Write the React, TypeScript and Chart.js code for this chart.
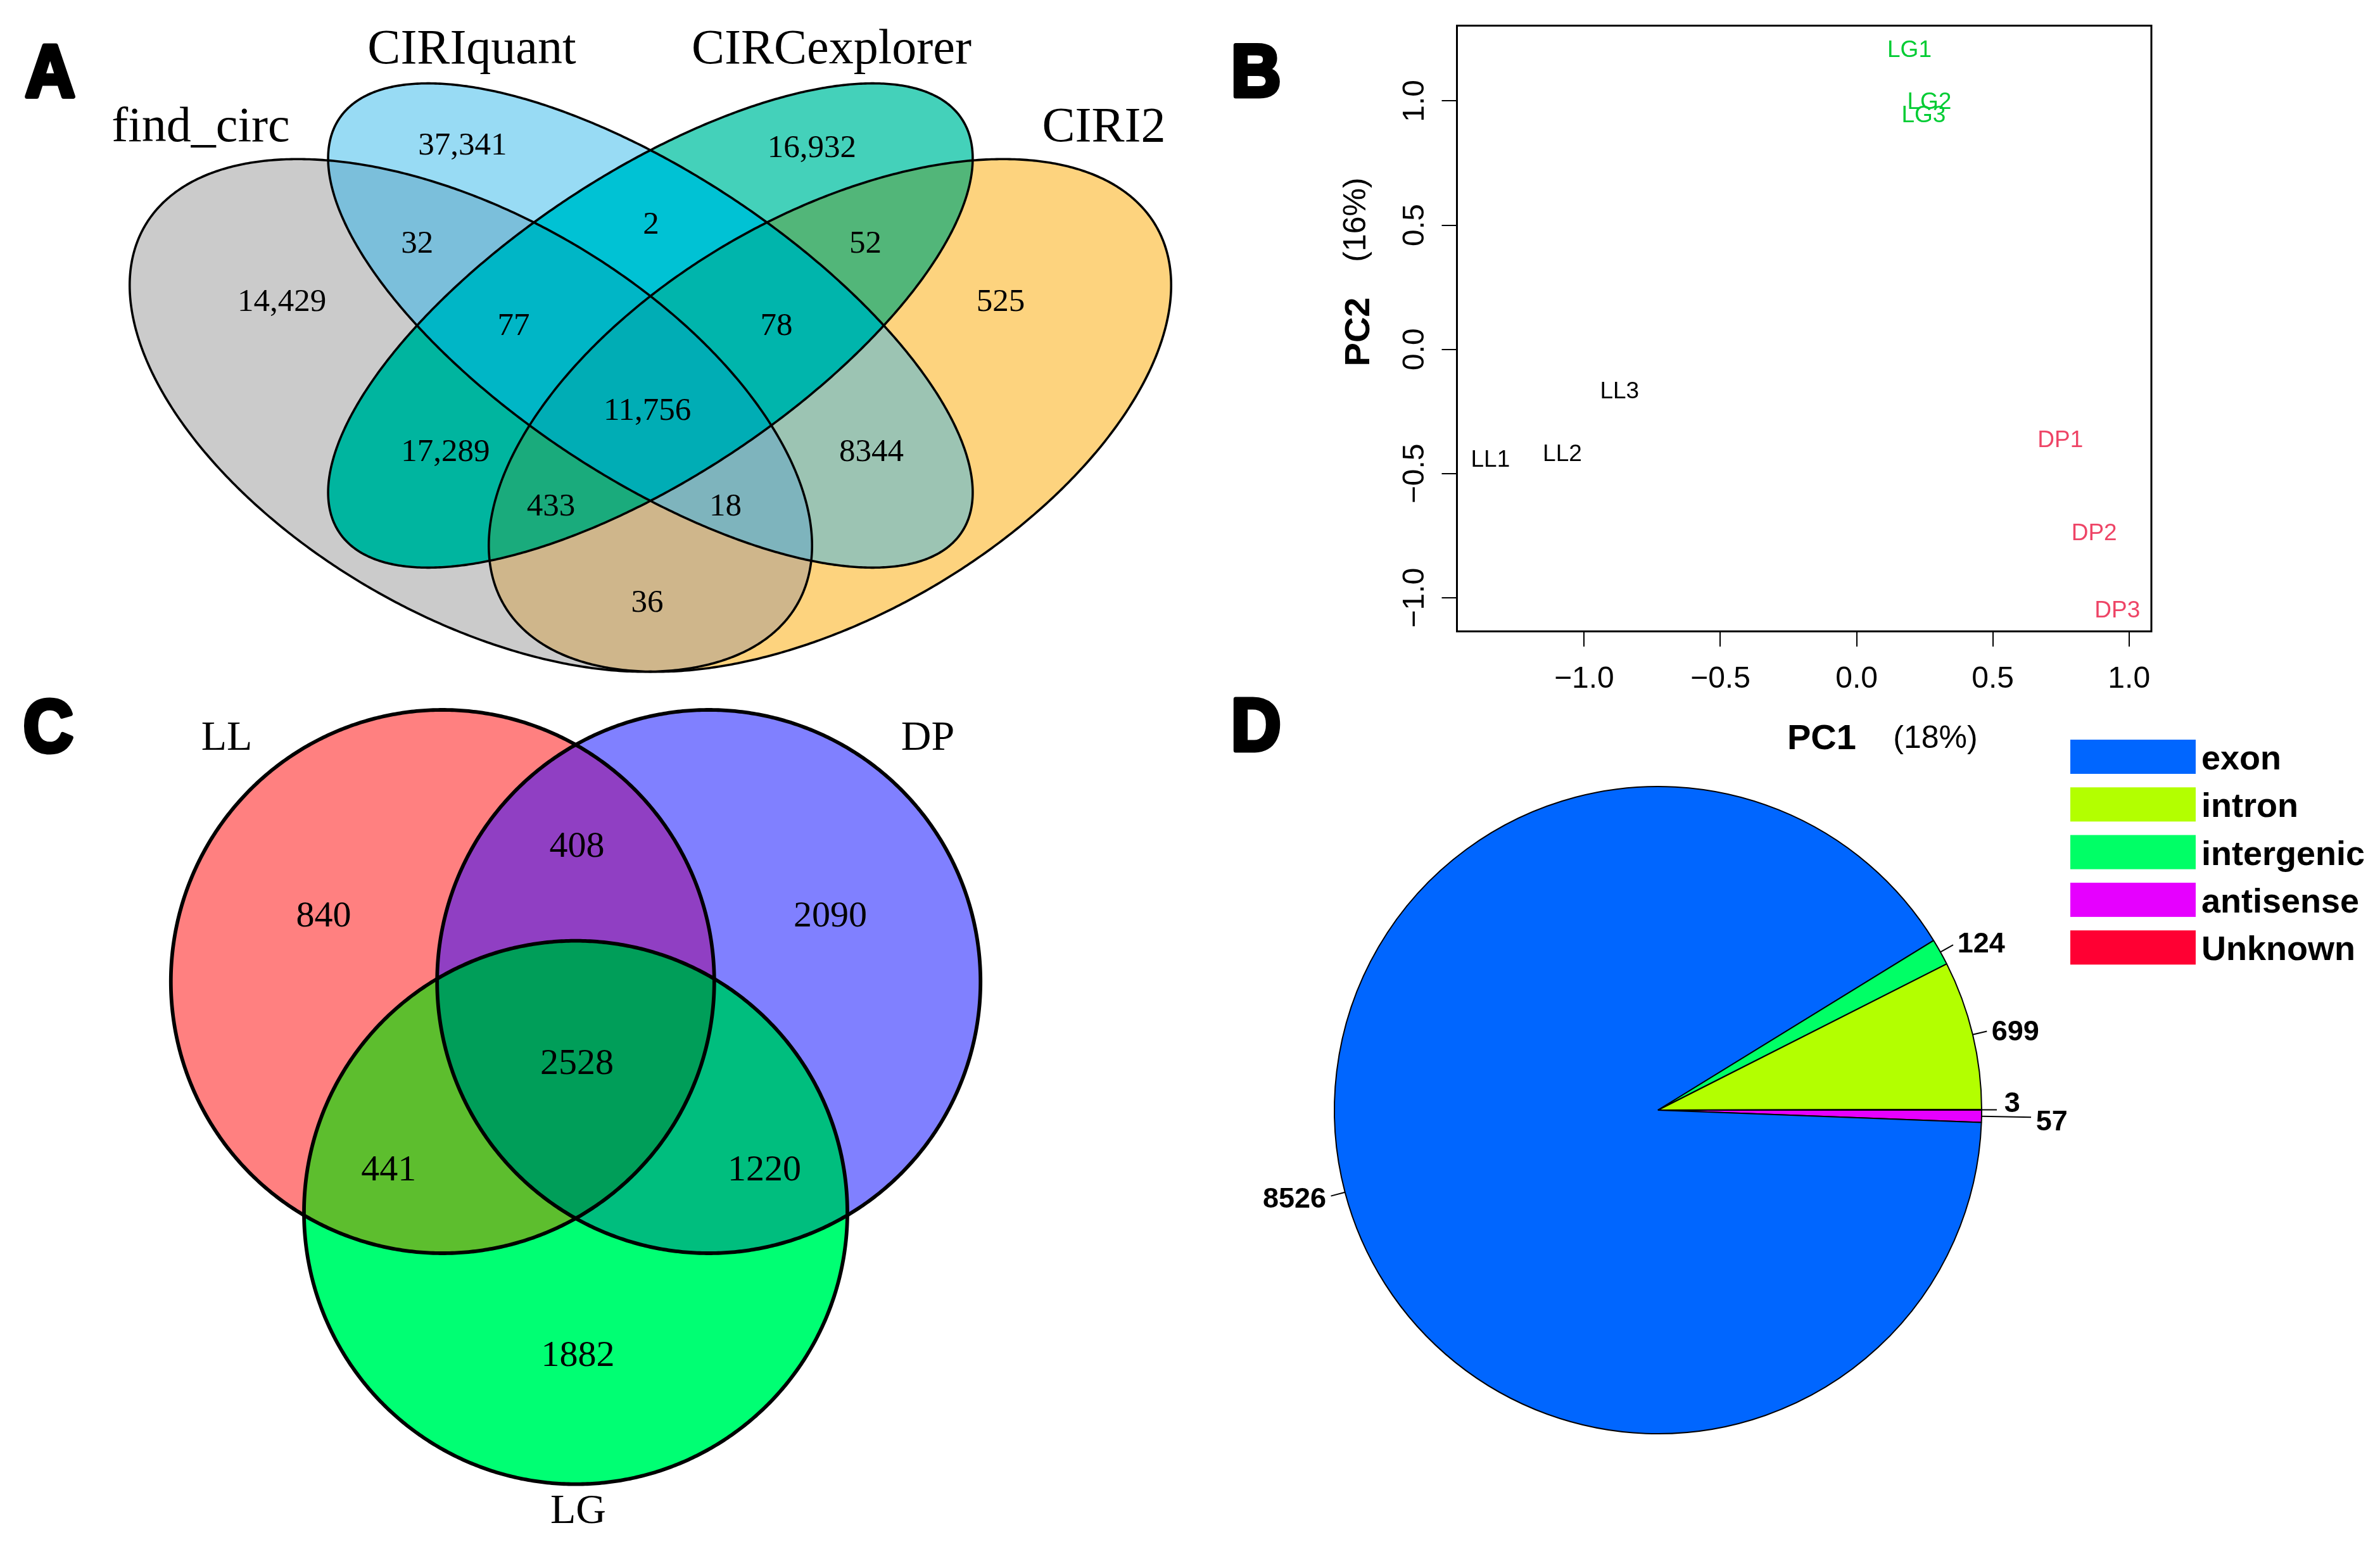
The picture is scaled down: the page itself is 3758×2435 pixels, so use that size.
import React, { useEffect, useRef } from 'react';
import { Chart, registerables } from 'chart.js';

Chart.register(...registerables);

/* ======================= DATA ======================= */
// Panel A – four-set Venn
const vennASetNames = ['find_circ', 'CIRIquant', 'CIRCexplorer', 'CIRI2'];
const vennARegions = ['A', 'B', 'C', 'D', 'AB', 'AC', 'AD', 'BC', 'BD', 'CD', 'ABC', 'ABD', 'ACD', 'BCD', 'ABCD'];
const vennACounts = [14429, 37341, 16932, 525, 32, 17289, 36, 2, 8344, 52, 77, 18, 433, 78, 11756];

// Panel B – PCA
const pcaSamples = ['LL1', 'LL2', 'LL3', 'DP1', 'DP2', 'DP3', 'LG1', 'LG2', 'LG3'];
const pcaPC1 = [-1.344, -1.08, -0.87, 0.748, 0.872, 0.957, 0.194, 0.267, 0.246];
const pcaPC2 = [-0.439, -0.417, -0.165, -0.361, -0.735, -1.047, 1.209, 1.0, 0.948];
const pcaGroups = ['LL', 'LL', 'LL', 'DP', 'DP', 'DP', 'LG', 'LG', 'LG'];
const pcaTickValues = [-1, -0.5, 0, 0.5, 1];
const pcaTickLabels = ['\u22121.0', '\u22120.5', '0.0', '0.5', '1.0'];
const pcaXTitle = ['PC1', '(18%)'];
const pcaYTitle = ['PC2', '(16%)'];

// Panel C – three-set Venn
const vennCSetNames = ['LL', 'DP', 'LG'];
const vennCRegions = ['A', 'B', 'C', 'AB', 'AC', 'BC', 'ABC'];
const vennCCounts = [840, 2090, 1882, 408, 441, 1220, 2528];

// Panel D – pie
const pieCategories = ['exon', 'intron', 'intergenic', 'antisense', 'Unknown'];
const pieCounts = [8526, 699, 124, 57, 3];
const pieOrder = [3, 0, 2, 1, 4]; // clockwise drawing order starting at 3 o'clock

/* ======================= STYLE / LAYOUT ======================= */
const SERIF = '"Liberation Serif", "Times New Roman", serif';
const SANS = '"Liberation Sans", Arial, sans-serif';

const A_COLORS: Record<string, string> = {
  A: '#CBCBCB', B: '#98DBF4', C: '#44D1BA', D: '#FDD37E',
  AB: '#7BBFDB', AC: '#00B59F', AD: '#CFB68B', BC: '#00C2D4', BD: '#9CC4B3', CD: '#52B679',
  ABC: '#00B6C6', ABD: '#7EB4BD', ACD: '#1AAB7C', BCD: '#00B5AC', ABCD: '#00ADB5',
};
const A_SHAPES = [
  { cx: 0.35, cy: 0.47, a: 0.35, b: 0.2, rot: 135 },
  { cx: 0.5, cy: 0.57, a: 0.35, b: 0.15, rot: 135 },
  { cx: 0.5, cy: 0.57, a: 0.35, b: 0.15, rot: 45 },
  { cx: 0.65, cy: 0.47, a: 0.35, b: 0.2, rot: 45 },
];
const A_LABEL_POS: Record<string, [number, number]> = {
  A: [0.1921, 0.5982], B: [0.3431, 0.7721], C: [0.6349, 0.7696], D: [0.7926, 0.5982],
  AB: [0.3051, 0.663], AC: [0.3288, 0.4313], AD: [0.4974, 0.2637], BC: [0.5005, 0.6841],
  BD: [0.6847, 0.4313], CD: [0.6796, 0.663], ABC: [0.3857, 0.5714], ABD: [0.5627, 0.3707],
  ACD: [0.4169, 0.3707], BCD: [0.6053, 0.5714], ABCD: [0.4974, 0.477],
};
const A_SET_POS: [number, number][] = [[0.1243, 0.7749], [0.3508, 0.8615], [0.6513, 0.8615], [0.8788, 0.7749]];

const C_COLORS: Record<string, string> = {
  A: '#FF8080', B: '#8080FF', C: '#00FF73', AB: '#903FC3', AC: '#5DBE2E', BC: '#00BE7E', ABC: '#009E59',
};
const C_SHAPES = [
  { cx: -0.49, cy: 0, a: 1, b: 1, rot: 0 },
  { cx: 0.49, cy: 0, a: 1, b: 1, rot: 0 },
  { cx: 0, cy: -0.85, a: 1, b: 1, rot: 0 },
];
const C_LABEL_POS: Record<string, [number, number]> = {
  A: [-0.9277, 0.2483], B: [0.9371, 0.2483], C: [0.0082, -1.3683], AB: [0.0047, 0.5035],
  AC: [-0.6883, -0.6876], BC: [0.6946, -0.6876], ABC: [0.0047, -0.2951],
};
const C_SET_POS: [number, number][] = [[-1.2844, 0.8531], [1.296, 0.8531], [0.0093, -1.993]];

const GROUP_COLORS: Record<string, string> = { LL: '#000000', DP: '#EE4466', LG: '#00CC33' };
const PIE_COLORS = ['#0066FF', '#B3FF00', '#00FF66', '#E600FF', '#FF0033'];
const PIE_LABEL_STYLE: Record<string, { lineEnd?: number; textAt?: number; dy?: number }> = {
  Unknown: { lineEnd: 1.047, textAt: 1.07, dy: -12 },
  antisense: { lineEnd: 1.153, textAt: 1.168, dy: 5 },
};

/* ======================= HELPERS ======================= */
function fmtCount(n: number) {
  return n >= 10000 ? n.toLocaleString('en-US') : String(n);
}

function ellipsePath(chart: any, e: any) {
  const xs = chart.scales.x;
  const ys = chart.scales.y;
  const p = new Path2D();
  const r = (e.rot * Math.PI) / 180;
  const n = 720;
  for (let i = 0; i <= n; i++) {
    const t = (i / n) * Math.PI * 2;
    const ux = e.cx + e.a * Math.cos(t) * Math.cos(r) - e.b * Math.sin(t) * Math.sin(r);
    const uy = e.cy + e.a * Math.cos(t) * Math.sin(r) + e.b * Math.sin(t) * Math.cos(r);
    const px = xs.getPixelForValue(ux);
    const py = ys.getPixelForValue(uy);
    if (i === 0) p.moveTo(px, py);
    else p.lineTo(px, py);
  }
  p.closePath();
  return p;
}

function drawVenn(chart: any, shapes: any[], regions: string[], colors: Record<string, string>, lw: number) {
  const ctx = chart.ctx;
  const paths = shapes.map((s) => ellipsePath(chart, s));
  const order = regions.map((_, i) => i).sort((a, b) => regions[a].length - regions[b].length);
  for (const i of order) {
    const key = regions[i];
    ctx.save();
    for (const ch of key) ctx.clip(paths[ch.charCodeAt(0) - 65]);
    ctx.fillStyle = colors[key];
    ctx.fillRect(0, 0, chart.width, chart.height);
    ctx.restore();
  }
  ctx.save();
  ctx.lineWidth = lw;
  ctx.strokeStyle = '#000';
  ctx.lineJoin = 'round';
  paths.forEach((p) => ctx.stroke(p));
  ctx.restore();
}

function drawPanelLetter(ctx: CanvasRenderingContext2D, letter: string, x: number, y: number) {
  ctx.save();
  ctx.translate(x, y);
  ctx.scale(0.94, 1);
  ctx.font = `bold 116px ${SANS}`;
  ctx.textAlign = 'center';
  ctx.textBaseline = 'alphabetic';
  ctx.lineWidth = 7;
  ctx.lineJoin = 'round';
  ctx.strokeStyle = '#000';
  ctx.fillStyle = '#000';
  ctx.strokeText(letter, 0, 0);
  ctx.fillText(letter, 0, 0);
  ctx.restore();
}

const baseOptions = {
  animation: false as const,
  responsive: false,
  maintainAspectRatio: false,
  devicePixelRatio: 1,
  events: [] as any[],
};

/* ======================= CONFIGS ======================= */
function configA(): any {
  const W = 1900, H = 1100;
  const sx = 1890, sy = 1420;
  const xmin = 0.5 - 1027 / sx;
  const ymax = 0.57 + 514 / sy;
  return {
    type: 'scatter',
    data: {
      datasets: [{
        data: vennARegions.map((k) => ({ x: A_LABEL_POS[k][0], y: A_LABEL_POS[k][1] })),
        pointRadius: 0, pointHoverRadius: 0,
      }],
    },
    options: {
      ...baseOptions,
      layout: { padding: 0 },
      scales: {
        x: { type: 'linear', display: false, min: xmin, max: xmin + W / sx },
        y: { type: 'linear', display: false, min: ymax - H / sy, max: ymax },
      },
      plugins: { legend: { display: false }, tooltip: { enabled: false } },
    },
    plugins: [{
      id: 'vennA',
      beforeDatasetsDraw(chart: any) {
        drawVenn(chart, A_SHAPES, vennARegions, A_COLORS, 3.6);
      },
      afterDatasetsDraw(chart: any) {
        const ctx = chart.ctx;
        const meta = chart.getDatasetMeta(0);
        ctx.save();
        ctx.fillStyle = '#000';
        ctx.textAlign = 'center';
        ctx.textBaseline = 'alphabetic';
        ctx.font = `51px ${SERIF}`;
        meta.data.forEach((el: any, i: number) => ctx.fillText(fmtCount(vennACounts[i]), el.x, el.y + 17));
        ctx.font = `78px ${SERIF}`;
        vennASetNames.forEach((n, i) => {
          ctx.fillText(n, chart.scales.x.getPixelForValue(A_SET_POS[i][0]), chart.scales.y.getPixelForValue(A_SET_POS[i][1]));
        });
        ctx.restore();
        drawPanelLetter(ctx, 'A', 79, 153);
      },
    }],
  };
}

function configB(): any {
  return {
    type: 'scatter',
    data: {
      datasets: [{
        data: pcaPC1.map((x, i) => ({ x, y: pcaPC2[i] })),
        pointRadius: 0, pointHoverRadius: 0,
      }],
    },
    options: {
      ...baseOptions,
      layout: { padding: { left: 300.5, right: 361, top: 40.5, bottom: 133 } },
      scales: {
        x: {
          type: 'linear', min: -1.467, max: 1.082,
          afterBuildTicks: (s: any) => { s.ticks = pcaTickValues.map((v) => ({ value: v })); },
          afterFit: (s: any) => { s.height = 100; },
          ticks: { display: false },
          grid: { display: true, drawOnChartArea: false, drawTicks: true, tickLength: 24, color: '#000', lineWidth: 2 },
          border: { display: false },
        },
        y: {
          type: 'linear', min: -1.135, max: 1.303,
          afterBuildTicks: (s: any) => { s.ticks = pcaTickValues.map((v) => ({ value: v })); },
          afterFit: (s: any) => { s.width = 100; },
          ticks: { display: false },
          grid: { display: true, drawOnChartArea: false, drawTicks: true, tickLength: 24, color: '#000', lineWidth: 2 },
          border: { display: false },
        },
      },
      plugins: { legend: { display: false }, tooltip: { enabled: false } },
    },
    plugins: [{
      id: 'pcaDecor',
      afterDraw(chart: any) {
        const ctx = chart.ctx;
        const ca = chart.chartArea;
        ctx.save();
        ctx.lineWidth = 3;
        ctx.strokeStyle = '#000';
        ctx.strokeRect(ca.left, ca.top, ca.right - ca.left, ca.bottom - ca.top);
        // sample labels
        const meta = chart.getDatasetMeta(0);
        ctx.font = `37px ${SANS}`;
        ctx.textAlign = 'center';
        ctx.textBaseline = 'alphabetic';
        meta.data.forEach((el: any, i: number) => {
          ctx.fillStyle = GROUP_COLORS[pcaGroups[i]];
          ctx.fillText(pcaSamples[i], el.x, el.y + 13);
        });
        // tick labels
        ctx.fillStyle = '#000';
        ctx.font = `48px ${SANS}`;
        chart.scales.x.ticks.forEach((t: any, i: number) => {
          ctx.fillText(pcaTickLabels[i], chart.scales.x.getPixelForValue(t.value), ca.bottom + 89);
        });
        chart.scales.y.ticks.forEach((t: any, i: number) => {
          ctx.save();
          ctx.translate(ca.left - 52.5, chart.scales.y.getPixelForValue(t.value));
          ctx.rotate(-Math.PI / 2);
          ctx.fillText(pcaTickLabels[i], 0, 0);
          ctx.restore();
        });
        // axis titles
        ctx.textAlign = 'left';
        ctx.font = `bold 56px ${SANS}`;
        ctx.fillText(pcaXTitle[0], 922, 1183);
        ctx.textAlign = 'center';
        ctx.font = `50px ${SANS}`;
        ctx.fillText(pcaXTitle[1], 1156, 1181);
        ctx.save();
        ctx.translate(262, 524);
        ctx.rotate(-Math.PI / 2);
        ctx.font = `bold 56px ${SANS}`;
        ctx.fillText(pcaYTitle[0], 0, 0);
        ctx.restore();
        ctx.save();
        ctx.translate(256, 347);
        ctx.rotate(-Math.PI / 2);
        ctx.font = `50px ${SANS}`;
        ctx.fillText(pcaYTitle[1], 0, 0);
        ctx.restore();
        ctx.restore();
        drawPanelLetter(ctx, 'B', 83, 152);
      },
    }],
  };
}

function configC(): any {
  const W = 1900, H = 1335, s = 429;
  const xmin = -909 / s;
  const ymax = 450 / s;
  return {
    type: 'scatter',
    data: {
      datasets: [{
        data: vennCRegions.map((k) => ({ x: C_LABEL_POS[k][0], y: C_LABEL_POS[k][1] })),
        pointRadius: 0, pointHoverRadius: 0,
      }],
    },
    options: {
      ...baseOptions,
      layout: { padding: 0 },
      scales: {
        x: { type: 'linear', display: false, min: xmin, max: xmin + W / s },
        y: { type: 'linear', display: false, min: ymax - H / s, max: ymax },
      },
      plugins: { legend: { display: false }, tooltip: { enabled: false } },
    },
    plugins: [{
      id: 'vennC',
      beforeDatasetsDraw(chart: any) {
        drawVenn(chart, C_SHAPES, vennCRegions, C_COLORS, 5.8);
      },
      afterDatasetsDraw(chart: any) {
        const ctx = chart.ctx;
        const meta = chart.getDatasetMeta(0);
        ctx.save();
        ctx.fillStyle = '#000';
        ctx.textAlign = 'center';
        ctx.textBaseline = 'alphabetic';
        ctx.font = `58px ${SERIF}`;
        meta.data.forEach((el: any, i: number) => ctx.fillText(String(vennCCounts[i]), el.x, el.y + 19.5));
        ctx.font = `66px ${SERIF}`;
        vennCSetNames.forEach((n, i) => {
          ctx.fillText(n, chart.scales.x.getPixelForValue(C_SET_POS[i][0]), chart.scales.y.getPixelForValue(C_SET_POS[i][1]));
        });
        ctx.restore();
        drawPanelLetter(ctx, 'C', 76, 87);
      },
    }],
  };
}

function configD(): any {
  return {
    type: 'pie',
    data: {
      labels: pieOrder.map((i) => pieCategories[i]),
      datasets: [{
        data: pieOrder.map((i) => pieCounts[i]),
        backgroundColor: pieOrder.map((i) => PIE_COLORS[i]),
        borderColor: '#000',
        borderWidth: 2,
        hoverOffset: 0,
      }],
    },
    options: {
      ...baseOptions,
      rotation: 90,
      radius: 511,
      layout: { padding: { left: 207, right: 629, top: 142, bottom: 171 } },
      plugins: { legend: { display: false }, tooltip: { enabled: false } },
    },
    plugins: [{
      id: 'pieDecor',
      afterDatasetsDraw(chart: any) {
        const ctx = chart.ctx;
        const meta = chart.getDatasetMeta(0);
        ctx.save();
        ctx.strokeStyle = '#000';
        ctx.fillStyle = '#000';
        ctx.lineWidth = 2;
        ctx.font = `bold 45px ${SANS}`;
        ctx.textBaseline = 'alphabetic';
        meta.data.forEach((arc: any, j: number) => {
          const idx = pieOrder[j];
          const cat = pieCategories[idx];
          const p = arc.getProps(['startAngle', 'endAngle', 'outerRadius', 'x', 'y'], true);
          const mid = (p.startAngle + p.endAngle) / 2;
          const st = PIE_LABEL_STYLE[cat] || {};
          const lineEnd = st.lineEnd ?? 1.045;
          const textAt = st.textAt ?? 1.06;
          const dy = st.dy ?? 0;
          const c = Math.cos(mid), s = Math.sin(mid);
          const r = p.outerRadius;
          ctx.beginPath();
          ctx.moveTo(p.x + c * r, p.y + s * r);
          ctx.lineTo(p.x + c * r * lineEnd, p.y + s * r * lineEnd);
          ctx.stroke();
          ctx.textAlign = c >= 0 ? 'left' : 'right';
          ctx.fillText(String(pieCounts[idx]), p.x + c * r * textAt, p.y + s * r * textAt + dy + 16);
        });
        // legend
        ctx.textAlign = 'left';
        ctx.font = `bold 54px ${SANS}`;
        pieCategories.forEach((cat, i) => {
          const top = 68 + i * 75.3;
          ctx.fillStyle = PIE_COLORS[i];
          ctx.fillRect(1369, top, 198, 54);
          ctx.fillStyle = '#000';
          ctx.fillText(cat, 1576, top + 47);
        });
        ctx.restore();
        drawPanelLetter(ctx, 'D', 83, 85);
      },
    }],
  };
}

/* ======================= COMPONENT ======================= */
const panels = [
  { key: 'A', left: 0, top: 0, width: 1900, height: 1100, make: configA },
  { key: 'B', left: 1900, top: 0, width: 1858, height: 1230, make: configB },
  { key: 'C', left: 0, top: 1100, width: 1900, height: 1335, make: configC },
  { key: 'D', left: 1900, top: 1100, width: 1858, height: 1335, make: configD },
];

export default function App() {
  const refs = useRef<(HTMLCanvasElement | null)[]>([]);

  useEffect(() => {
    document.body.style.margin = '0';
    const charts = panels.map((p, i) => new Chart(refs.current[i] as HTMLCanvasElement, p.make()));
    return () => charts.forEach((c) => c.destroy());
  }, []);

  return (
    <div style={{ position: 'absolute', left: 0, top: 0, width: 3758, height: 2435, background: '#ffffff', overflow: 'hidden' }}>
      {panels.map((p, i) => (
        <canvas
          key={p.key}
          ref={(el) => { refs.current[i] = el; }}
          width={p.width}
          height={p.height}
          style={{ position: 'absolute', left: p.left, top: p.top, width: p.width, height: p.height }}
        />
      ))}
    </div>
  );
}
